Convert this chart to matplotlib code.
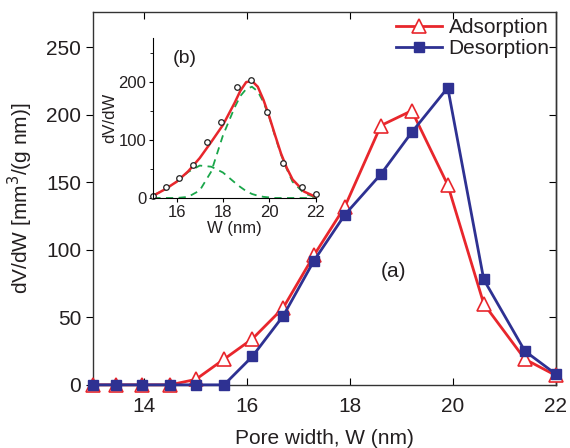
import numpy as np
import matplotlib
matplotlib.use("Agg")
import matplotlib.pyplot as plt

plt.rcParams['font.family'] = ['Liberation Sans', 'DejaVu Sans']

# pore width (nm) and dV/dW data
width = [13.0, 13.45, 13.95, 14.5, 15.0, 15.55, 16.1, 16.7, 17.3, 17.9,
         18.6, 19.2, 19.9, 20.6, 21.4, 22.0]
adsorption = [0, 0, 0, 0, 4, 19, 34, 57, 96, 132, 192, 203, 148, 60, 19, 7]
desorption = [0, 0, 0, 0, 0, 0, 21, 51, 92, 126, 156, 187, 220, 78, 25, 8]

# inset (b): fitted curve and two components
fit_x = [15.0, 15.5, 16.0, 16.5, 17.0, 17.5, 18.0, 18.5, 18.75, 19.0, 19.25,
         19.5, 19.75, 20.0, 20.25, 20.5, 20.75, 21.0, 21.5, 22.0]
fit_total = [4, 15, 28, 46, 69, 97, 126, 164, 185, 200, 202, 192, 169, 140,
             108, 77, 52, 32, 11, 2]
fit_small = [5, 14, 28, 45, 56, 54, 44, 27, 19, 12, 7, 4, 2, 1, 0, 0, 0, 0, 0, 0]
fit_large = [0, 0, 0, 2, 13, 46, 108, 156, 176, 188, 192, 184, 165, 139,
             106, 75, 50, 28, 8, 1]

red = '#e8262c'
blue = '#2e3192'
green = '#1aa64a'
ink = '#231f20'

fig = plt.figure(figsize=(5.7, 4.48), dpi=100)
ax = fig.add_axes([0.163, 0.141, 0.812, 0.832])

ax.plot(width, adsorption, color=red, lw=2, marker='^', ms=10, mfc='white',
        mec=red, mew=1.2, label='Adsorption', clip_on=False, zorder=3)
ax.plot(width, desorption, color=blue, lw=2, marker='s', ms=6.5, mfc=blue,
        mec=blue, label='Desorption', clip_on=False, zorder=4)

ax.set_xlim(13, 22)
ax.set_ylim(0, 276)
ax.set_xticks([14, 16, 18, 20, 22])
ax.set_yticks([0, 50, 100, 150, 200, 250])
ax.tick_params(axis='x', direction='in', top=True, length=5, labelsize=15,
               pad=9, labelcolor=ink)
ax.tick_params(axis='y', direction='out', length=5, labelsize=15, labelcolor=ink)

# inward ticks on the right side
sec = ax.secondary_yaxis('right')
sec.set_yticks([0, 50, 100, 150, 200, 250])
sec.tick_params(direction='in', length=5, labelright=False)

ax.set_xlabel('Pore width, W (nm)', fontsize=15, color=ink, labelpad=9)
ax.set_ylabel('dV/dW [mm$^3$/(g nm)]', fontsize=15, color=ink, labelpad=8)
ax.text(18.85, 84, '(a)', fontsize=15, ha='center', va='center', color=ink)
for s in list(ax.spines.values()) + [sec.spines['right']]:
    s.set_linewidth(1.0)
    s.set_color('#333333')

leg = ax.legend(loc='upper right', bbox_to_anchor=(1.0, 1.0), frameon=False,
                fontsize=15, handlelength=2.2, handletextpad=0.3,
                labelspacing=0.1, borderpad=0.2, borderaxespad=0.1)
for t in leg.get_texts():
    t.set_color(ink)

# inset
ins = fig.add_axes([0.269, 0.558, 0.285, 0.357])
ins.plot(fit_x, fit_small, color=green, lw=1.3, ls=(0, (4, 3)))
ins.plot(fit_x, fit_large, color=green, lw=1.3, ls=(0, (4, 3)))
ins.plot(fit_x, fit_total, color=red, lw=1.8)
ins.plot(width[4:], adsorption[4:], ls='none', marker='o', ms=4, mfc='white',
         mec='#222222', mew=0.9, clip_on=False)
ins.set_xlim(15, 22)
ins.set_ylim(0, 276)
ins.set_xticks([16, 18, 20, 22])
ins.set_yticks([0, 100, 200])
ins.set_yticks([50, 150, 250], minor=True)
ins.tick_params(direction='out', length=3, labelsize=12, pad=2, labelcolor=ink)
ins.tick_params(which='minor', direction='out', length=2)
ins.spines['top'].set_visible(False)
ins.spines['right'].set_visible(False)
ins.patch.set_alpha(0)
ins.set_xlabel('W (nm)', fontsize=12, labelpad=1, color=ink)
ins.set_ylabel('dV/dW', fontsize=12, labelpad=1, color=ink)
ins.text(16.35, 241, '(b)', fontsize=14, ha='center', va='center', color=ink)

fig.savefig('out.png', dpi=100)
